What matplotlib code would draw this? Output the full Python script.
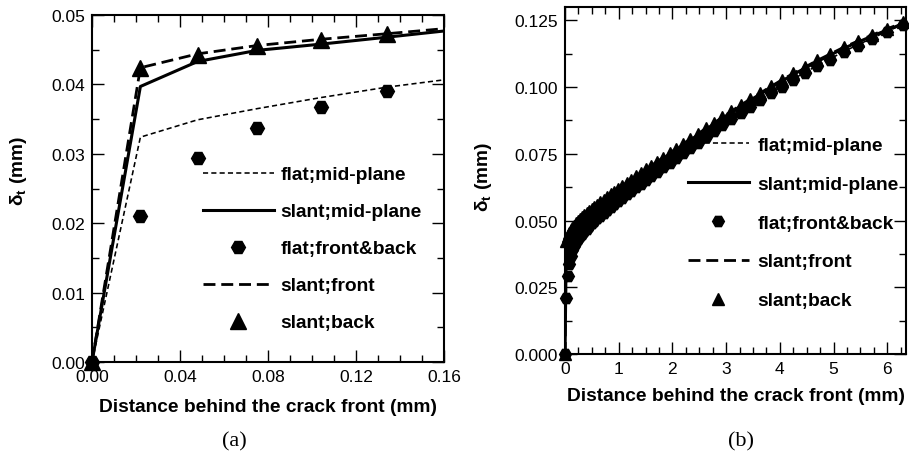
import numpy as np
import matplotlib
matplotlib.use('Agg')
import matplotlib.pyplot as plt
from matplotlib.ticker import MultipleLocator, FormatStrFormatter

plt.rcParams['font.family'] = 'Liberation Sans'
plt.rcParams['mathtext.fontset'] = 'custom'
plt.rcParams['mathtext.rm'] = 'Liberation Sans:bold'
plt.rcParams['mathtext.bf'] = 'Liberation Sans:bold'

# distance behind the crack front (mm), nodes along the crack flank
dist = [0, 0.022, 0.048, 0.075, 0.104, 0.134, 0.166, 0.200, 0.236, 0.274,
        0.314, 0.356, 0.400, 0.447, 0.496, 0.548, 0.603, 0.660, 0.720, 0.780,
        0.850, 0.920, 0.990, 1.07, 1.15, 1.23, 1.32, 1.41, 1.51, 1.61,
        1.72, 1.83, 1.95, 2.07, 2.20, 2.33, 2.47, 2.62, 2.77, 2.93,
        3.10, 3.27, 3.45, 3.64, 3.84, 4.04, 4.25, 4.47, 4.70, 4.94,
        5.19, 5.45, 5.72, 6.00, 6.30]

# CTOD delta_t (mm)
flat_mid = [0, 0.0324, 0.0349, 0.0365, 0.0381, 0.0396, 0.0409, 0.0422, 0.0434, 0.0444,
            0.0454, 0.0463, 0.0472, 0.0482, 0.0492, 0.0501, 0.0511, 0.0521, 0.0531, 0.0541,
            0.0553, 0.0564, 0.0576, 0.0589, 0.0601, 0.0613, 0.0627, 0.0641, 0.0655, 0.0670,
            0.0686, 0.0702, 0.0720, 0.0737, 0.0756, 0.0774, 0.0794, 0.0816, 0.0837, 0.0860,
            0.0883, 0.0906, 0.0930, 0.0954, 0.0980, 0.1005, 0.1030, 0.1055, 0.1081, 0.1106,
            0.1133, 0.1158, 0.1183, 0.1209, 0.1235]
slant_mid = [0, 0.0397, 0.0433, 0.0449, 0.0458, 0.0468, 0.0479, 0.0487, 0.0495, 0.0502,
             0.0510, 0.0516, 0.0524, 0.0532, 0.0540, 0.0548, 0.0556, 0.0565, 0.0574, 0.0583,
             0.0594, 0.0604, 0.0615, 0.0626, 0.0638, 0.0649, 0.0662, 0.0674, 0.0688, 0.0702,
             0.0717, 0.0732, 0.0749, 0.0765, 0.0783, 0.0801, 0.0820, 0.0841, 0.0861, 0.0883,
             0.0906, 0.0928, 0.0951, 0.0974, 0.0999, 0.1023, 0.1047, 0.1071, 0.1096, 0.1120,
             0.1145, 0.1168, 0.1191, 0.1214, 0.1238]
flat_fb = [0, 0.0210, 0.0294, 0.0337, 0.0367, 0.0390, 0.0405, 0.0419, 0.0431, 0.0441,
           0.0451, 0.0459, 0.0469, 0.0479, 0.0489, 0.0498, 0.0508, 0.0518, 0.0528, 0.0538,
           0.0550, 0.0561, 0.0573, 0.0586, 0.0598, 0.0610, 0.0624, 0.0638, 0.0652, 0.0667,
           0.0683, 0.0699, 0.0717, 0.0734, 0.0753, 0.0771, 0.0791, 0.0813, 0.0834, 0.0857,
           0.0880, 0.0903, 0.0927, 0.0951, 0.0977, 0.1002, 0.1027, 0.1052, 0.1078, 0.1103,
           0.1130, 0.1155, 0.1180, 0.1206, 0.1232]
slant_front = [0, 0.0424, 0.0444, 0.0456, 0.0465, 0.0473, 0.0482, 0.0490, 0.0499, 0.0506,
               0.0514, 0.0520, 0.0528, 0.0536, 0.0544, 0.0552, 0.0560, 0.0569, 0.0578, 0.0587,
               0.0598, 0.0608, 0.0619, 0.0630, 0.0642, 0.0653, 0.0666, 0.0678, 0.0692, 0.0706,
               0.0721, 0.0736, 0.0753, 0.0769, 0.0787, 0.0805, 0.0824, 0.0845, 0.0865, 0.0887,
               0.0910, 0.0932, 0.0955, 0.0978, 0.1003, 0.1027, 0.1051, 0.1075, 0.1100, 0.1124,
               0.1149, 0.1172, 0.1195, 0.1218, 0.1242]
slant_back = [0, 0.0423, 0.0443, 0.0455, 0.0464, 0.0472, 0.0481, 0.0490, 0.0499, 0.0506,
              0.0514, 0.0520, 0.0528, 0.0536, 0.0544, 0.0552, 0.0560, 0.0569, 0.0578, 0.0587,
              0.0598, 0.0608, 0.0619, 0.0630, 0.0642, 0.0653, 0.0666, 0.0678, 0.0692, 0.0706,
              0.0721, 0.0736, 0.0753, 0.0769, 0.0787, 0.0805, 0.0824, 0.0845, 0.0865, 0.0887,
              0.0910, 0.0932, 0.0955, 0.0978, 0.1003, 0.1027, 0.1051, 0.1075, 0.1100, 0.1124,
              0.1149, 0.1172, 0.1195, 0.1218, 0.1242]

labels = ['flat;mid-plane', 'slant;mid-plane', 'flat;front&back', 'slant;front', 'slant;back']


def draw_panel(ax, xmax, ymax, ms_hex, ms_tri):
    x = np.array(dist)
    keep = x <= xmax * 1.001  # markers are drawn unclipped, so drop the ones past the frame
    h = []
    h += ax.plot(x, flat_mid, color='k', lw=1.15, dashes=(3.2, 2.0))
    h += ax.plot(x, slant_mid, color='k', lw=2.2)
    h += ax.plot(x[keep], np.array(flat_fb)[keep], ls='none', marker='H', ms=ms_hex,
                 color='k', clip_on=False, zorder=4)
    h += ax.plot(x, slant_front, color='k', lw=2.0, dashes=(4.3, 2.1))
    h += ax.plot(x[keep], np.array(slant_back)[keep], ls='none', marker='^', ms=ms_tri,
                 color='k', clip_on=False, zorder=5)
    ax.set_xlim(0, xmax)
    ax.set_ylim(0, ymax)
    ax.tick_params(which='both', direction='in', top=True, right=True, width=1.0,
                   labelsize=12.5, pad=5)
    ax.tick_params(which='major', length=8.5)
    ax.tick_params(which='minor', length=5)
    for sp in ax.spines.values():
        sp.set_linewidth(1.5)
    ax.set_xlabel('Distance behind the crack front (mm)', fontsize=13.8,
                  fontweight='bold', va='center')
    ax.set_ylabel('δ$_\\mathbf{t}$ (mm)', fontsize=13.8, fontweight='bold',
                  va='center', ha='center')
    return h


fig = plt.figure(figsize=(9.09, 4.52), dpi=100)
ax1 = fig.add_axes([0.1012, 0.1969, 0.3872, 0.7677])
ax2 = fig.add_axes([0.6216, 0.2146, 0.3751, 0.7677])

h1 = draw_panel(ax1, 0.16, 0.05, 10, 11)
ax1.xaxis.set_major_locator(MultipleLocator(0.04))
ax1.xaxis.set_minor_locator(MultipleLocator(0.01))
ax1.yaxis.set_major_locator(MultipleLocator(0.01))
ax1.yaxis.set_minor_locator(MultipleLocator(0.005))
ax1.xaxis.set_major_formatter(FormatStrFormatter('%.2f'))
ax1.yaxis.set_major_formatter(FormatStrFormatter('%.2f'))
ax1.xaxis.set_label_coords(0.5, -0.127)
ax1.yaxis.set_label_coords(-0.21, 0.553)
ax1.legend(h1, labels, loc='upper left', bbox_to_anchor=(0.315, 0.565), frameon=False,
           prop={'weight': 'bold', 'size': 13.8}, handlelength=3.7, handletextpad=0.35,
           labelspacing=1.02, borderpad=0, borderaxespad=0)

h2 = draw_panel(ax2, 6.35, 0.130, 8.5, 9)
ax2.xaxis.set_major_locator(MultipleLocator(1))
ax2.xaxis.set_minor_locator(MultipleLocator(0.25))
ax2.yaxis.set_major_locator(MultipleLocator(0.025))
ax2.yaxis.set_minor_locator(MultipleLocator(0.0125))
ax2.xaxis.set_major_formatter(FormatStrFormatter('%d'))
ax2.yaxis.set_major_formatter(FormatStrFormatter('%.3f'))
ax2.xaxis.set_label_coords(0.5, -0.121)
ax2.yaxis.set_label_coords(-0.24, 0.513)
ax2.legend(h2, labels, loc='upper left', bbox_to_anchor=(0.36, 0.627), frameon=False,
           prop={'weight': 'bold', 'size': 13.8}, handlelength=3.2, handletextpad=0.45,
           labelspacing=1.12, borderpad=0, borderaxespad=0)

fig.text(234 / 909, 1 - 442 / 452, '(a)', family='Liberation Serif', fontsize=16,
         ha='center', va='center')
fig.text(741 / 909, 1 - 442 / 452, '(b)', family='Liberation Serif', fontsize=16,
         ha='center', va='center')

fig.savefig('out.png', dpi=100)
